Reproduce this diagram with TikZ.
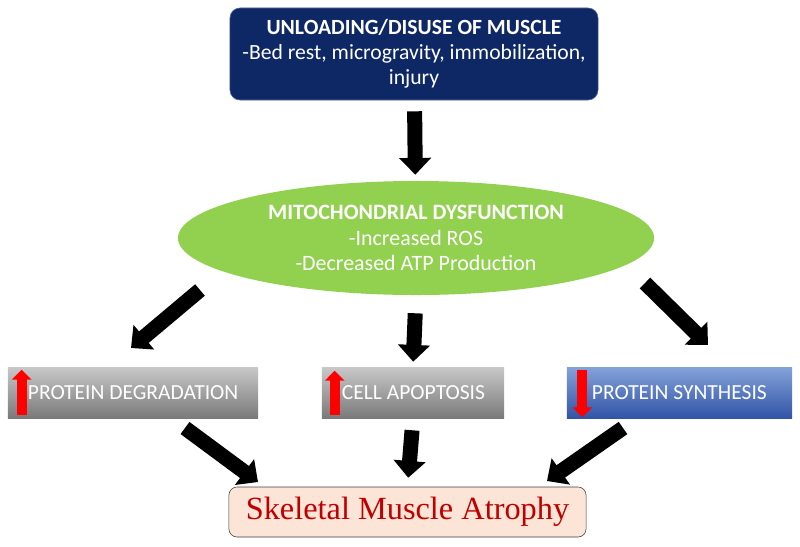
\documentclass[tikz,border=0pt]{standalone}
\usepackage{fontspec}
\setmainfont{Carlito}
\newfontfamily\atrfont{Liberation Serif}
\usetikzlibrary{arrows.meta,shapes.geometric}
\definecolor{navy}{RGB}{14,40,102}
\definecolor{mitogreen}{RGB}{146,208,80}
\definecolor{greytop}{RGB}{200,200,200}
\definecolor{greybot}{RGB}{122,122,122}
\definecolor{bluetop}{RGB}{132,162,218}
\definecolor{bluebot}{RGB}{50,84,166}
\definecolor{atrpink}{RGB}{252,228,214}
\definecolor{atrred}{RGB}{192,0,0}

\begin{document}
\begin{tikzpicture}[x=0.025cm,y=-0.025cm,
    fat/.style={line width=0.375cm,-{Triangle[length=0.42cm,width=0.78cm]}},
    redarr/.style={red,line width=0.25cm,-{Triangle[length=0.25cm,width=0.48cm]}},
    greybox/.style={rectangle,top color=greytop,bottom color=greybot,minimum height=1.275cm,inner sep=0},
    bluebox/.style={greybox,top color=bluetop,bottom color=bluebot},
    boxtext/.style={text=white,font=\fontsize{15.3}{17}\selectfont,anchor=west,inner sep=0}]
    \useasboundingbox (0,0) rectangle (800,546);
    \node[rectangle,rounded corners=0.25cm,fill=navy,draw=navy!70!white,minimum width=9.2cm,minimum height=2.3cm,
        text=white,align=center,font=\fontsize{15.4}{17.8}\selectfont] at (414,54) (unload)
        {\textbf{UNLOADING/DISUSE OF MUSCLE}\\-Bed rest, microgravity, immobilization,\\injury};
    \node[ellipse,fill=mitogreen,minimum width=11.9cm,minimum height=2.85cm,inner sep=0,
        text=white,align=center,font=\fontsize{15.6}{18.4}\selectfont] at (416,238) (mito)
        {\textbf{MITOCHONDRIAL DYSFUNCTION}\\-Increased ROS\\-Decreased ATP Production};
    \node[greybox,minimum width=6.25cm] at (133,392.5) (degr) {};
    \node[greybox,minimum width=4.55cm] at (413,392.5) (apop) {};
    \node[bluebox,minimum width=5.625cm] at (679.5,392.5) (synth) {};
    \node[boxtext] at ([xshift=0.5cm]degr.west) {PROTEIN DEGRADATION};
    \node[boxtext] at ([xshift=0.5cm]apop.west) {CELL APOPTOSIS};
    \node[boxtext] at ([xshift=0.625cm]synth.west) {PROTEIN SYNTHESIS};
    \node[rectangle,rounded corners=0.2cm,fill=atrpink,draw=black!75,minimum width=8.925cm,minimum height=1.25cm,
        text=atrred,font=\atrfont\fontsize{23}{26}\selectfont] at (407.5,512) (atrophy) {Skeletal Muscle Atrophy};
    \draw[redarr] ([shift={(0.35cm,0.075cm)}]degr.south west) -- ([shift={(0.35cm,-0.075cm)}]degr.north west);
    \draw[redarr] ([shift={(0.325cm,0.075cm)}]apop.south west) -- ([shift={(0.325cm,-0.1cm)}]apop.north west);
    \draw[redarr] ([shift={(0.39cm,-0.075cm)}]synth.north west) -- ([shift={(0.39cm,0.025cm)}]synth.south west);
    \coordinate (mitoL) at (200,290);
    \coordinate (degrT) at (131,348);
    \coordinate (mitoR) at (645,283);
    \coordinate (synthT) at (708,345);
    \coordinate (degrB) at (185,428);
    \coordinate (atrL) at (258,482);
    \coordinate (synthB) at (623,428);
    \coordinate (atrR) at (547,481);
    \draw[fat,shorten <=0.275cm,shorten >=0.15cm] (unload) -- (mito);
    \draw[fat,shorten <=0.45cm,shorten >=0.125cm] (mito.south) -- (apop.north);
    \draw[fat,shorten <=0.3cm,shorten >=0.225cm] (apop.south) -- (atrophy.north);
    \draw[fat] (mitoL) -- (degrT);
    \draw[fat] (mitoR) -- (synthT);
    \draw[fat] (degrB) -- (atrL);
    \draw[fat] (synthB) -- (atrR);
\end{tikzpicture}
\end{document}
